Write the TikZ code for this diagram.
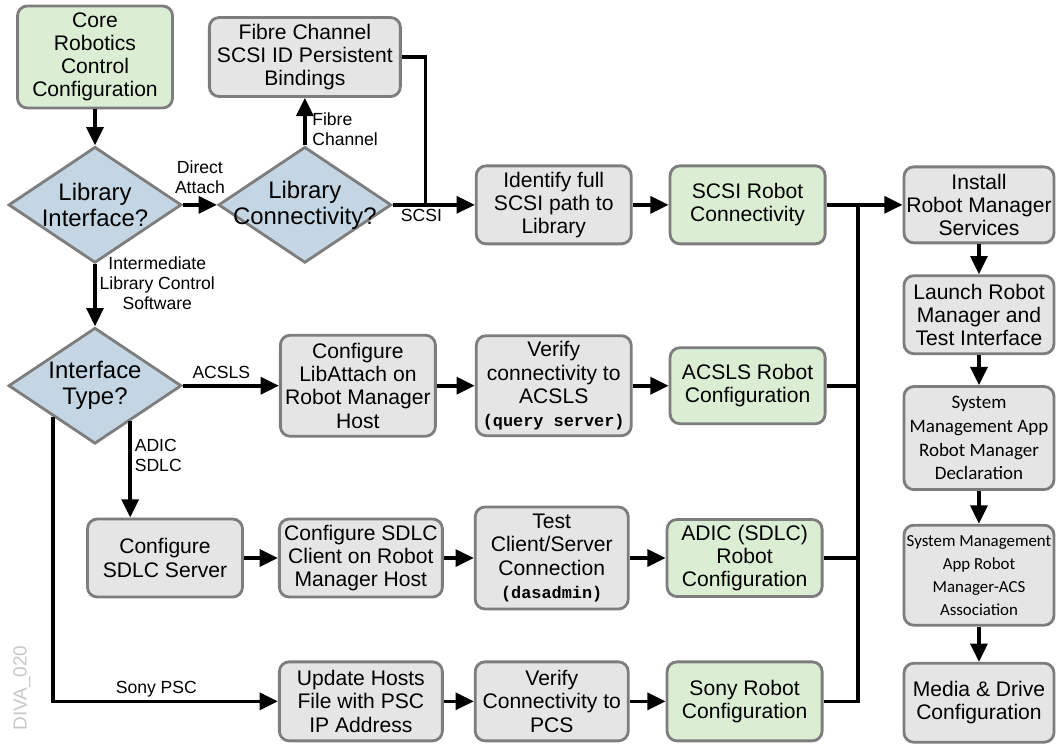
\documentclass[tikz,border=0pt]{standalone}
\usepackage{fontspec}
\setmainfont{Liberation Sans}
\newfontfamily\monofont{Liberation Mono}
\newfontfamily\carlito{Carlito}
\usepackage{tikz}
\usetikzlibrary{arrows.meta,positioning,calc,shapes.geometric}

\definecolor{boxgreen}{RGB}{219,238,212}
\definecolor{boxgray}{RGB}{229,229,229}
\definecolor{boxblue}{RGB}{196,214,227}
\definecolor{boxline}{RGB}{125,125,125}
\newcommand{\cmdtext}[1]{{\monofont\bfseries\fontsize{12}{14}\selectfont #1}}

\begin{document}
\begin{tikzpicture}[
x=0.025cm, y=-0.025cm,
every node/.style={font=\fontsize{15}{16.5}\selectfont},
task/.style={
draw=boxline,
line width=2pt,
rounded corners=7pt,
minimum width=3.875cm,
minimum height=1.95cm,
inner sep=1pt,
align=center,
fill=boxgray
},
done/.style={task, fill=boxgreen},
sysbox/.style={task, minimum width=3.75cm},
decision/.style={
diamond,
draw=boxline,
line width=2pt,
fill=boxblue,
inner sep=0pt,
minimum width=4.325cm,
minimum height=2.9cm
},
dtext/.style={font=\fontsize{17}{18.5}\selectfont, align=center, inner sep=0pt},
tag/.style={font=\fontsize{12.5}{14.2}\selectfont, inner sep=2pt, align=center},
arrow/.style={-{Triangle[length=13pt,width=12pt]}, line width=2.6pt},
wire/.style={line width=2.6pt}
]
\useasboundingbox (0,0) rectangle (1057,745);

% Top part
\node[done, minimum height=2.55cm] (core) at (95,57) {Core\\Robotics\\Control\\Configuration};
\node[task, right=0.85cm of core, minimum width=4.775cm, minimum height=1.975cm] (fibre) {Fibre Channel\\SCSI ID Persistent\\Bindings};

\node[decision, below=0.9cm of core, label={[dtext]center:Library\\Interface?}] (libif) {};
\node[decision, right=0.85cm of libif, label={[dtext]center:Library\\Connectivity?}] (libconn) {};
\node[task, right=2.05cm of libconn] (identify) {Identify full\\SCSI path to\\Library};
\node[done, right=0.9cm of identify] (scsirobot) {SCSI Robot\\Connectivity};

% Right column
\node[sysbox, right=1.9cm of scsirobot, minimum height=1.9cm] (install) {Install\\Robot Manager\\Services};
\node[sysbox, below=0.75cm of install] (launch) {Launch Robot\\Manager and\\Test Interface};
\node[sysbox, below=0.75cm of launch, minimum height=2.575cm, font=\carlito\fontsize{13.5}{17}\selectfont] (sysdecl) {System\\Management App\\Robot Manager\\Declaration};
\node[sysbox, below=0.82cm of sysdecl, minimum height=2.5cm, font=\carlito\fontsize{12}{16.4}\selectfont] (sysassoc) {System Management\\App Robot\\Manager-ACS\\Association};
\node[sysbox, below=0.88cm of sysassoc, minimum height=1.975cm] (media) {Media \& Drive\\Configuration};

% ACSLS row
\node[decision, below=1.55cm of libif, label={[dtext]center:Interface\\Type?}] (interface) {};
\node[task, right=2.4cm of interface, minimum height=2.525cm] (libattach) {Configure\\LibAttach on\\Robot Manager\\Host};
\node[task, right=0.95cm of libattach, minimum height=2.5cm] (verify) {Verify\\connectivity to\\ACSLS\\\cmdtext{(query server)}};
\node[done, right=0.9cm of verify, minimum height=1.9cm] (acslsrobot) {ACSLS Robot\\Configuration};

% SDLC row
\node[task] (sdlcserver) at (165,558) {Configure\\SDLC Server};
\node[task, right=0.85cm of sdlcserver, minimum width=4.075cm] (sdlcclient) {Configure SDLC\\Client on Robot\\Manager Host};
\node[task, right=0.75cm of sdlcclient, minimum width=3.825cm, minimum height=2.55cm] (test) {Test\\Client/Server\\Connection\\\cmdtext{(dasadmin)}};
\node[done, right=0.9cm of test, minimum height=1.925cm] (adic) {ADIC (SDLC)\\Robot\\Configuration};

% Sony row
\node[task, below=1.55cm of sdlcclient, minimum width=4.075cm, minimum height=1.975cm] (updatehosts) {Update Hosts\\File with PSC\\IP Address};
\node[task, right=0.75cm of updatehosts, minimum width=3.825cm, minimum height=1.975cm] (verifypcs) {Verify\\Connectivity to\\PCS};
\node[done, right=0.9cm of verifypcs, minimum height=1.975cm] (sony) {Sony Robot\\Configuration};

\node[rotate=90, text=black!22, font=\fontsize{13.5}{15}\selectfont] (diva) at (22,688) {DIVA\_020};

% Arrows
\draw[arrow] (core) -- (libif);
\draw[arrow] (libif) -- node[tag, above=5pt]{Direct\\Attach} (libconn);
\draw[arrow] (libconn.north) -- node[tag, right=2pt, align=left, pos=0.35]{Fibre\\Channel} (libconn.north |- fibre.south);
\draw[arrow] (libconn) -- node[tag, below, pos=0.35]{SCSI} (identify);
\coordinate (fcjoin) at ($(libconn.east)!0.4!(identify.west)$);
\draw[wire] (fibre.east) -| (fcjoin);
\draw[arrow] (identify) -- (scsirobot);
\draw[arrow] (libif) -- node[tag, right, pos=0.3]{Intermediate\\Library Control\\Software} (interface);

\draw[arrow] (interface) -- node[tag, above=2pt, pos=0.4]{ACSLS} (libattach);
\draw[arrow] (libattach) -- (verify);
\draw[arrow] (verify) -- (acslsrobot);

\coordinate (adicstart) at ($(interface.south)!0.4!(interface.east)$);
\draw[arrow] (adicstart) -- node[tag, right, align=left, pos=0.35]{ADIC\\SDLC} (adicstart |- sdlcserver.north);
\draw[arrow] (sdlcserver) -- (sdlcclient);
\draw[arrow] (sdlcclient) -- (test);
\draw[arrow] (test) -- (adic);

\coordinate (sonystart) at ($(interface.south)!0.48!(interface.west)$);
\draw[arrow] (sonystart) |- node[tag, above, pos=0.73]{Sony PSC} (updatehosts);
\draw[arrow] (updatehosts) -- (verifypcs);
\draw[arrow] (verifypcs) -- (sony);

% Collecting line
\coordinate (bus) at ($(scsirobot.east)!0.41!(install.west)$);
\draw[arrow] (scsirobot) -- (install);
\draw[wire] (acslsrobot.east) -| (bus);
\draw[wire] (adic.east) -| (bus);
\draw[wire] (sony.east) -| (bus);

\draw[arrow] (install) -- (launch);
\draw[arrow] (launch) -- (sysdecl);
\draw[arrow] (sysdecl) -- (sysassoc);
\draw[arrow] (sysassoc) -- (media);

\end{tikzpicture}
\end{document}
